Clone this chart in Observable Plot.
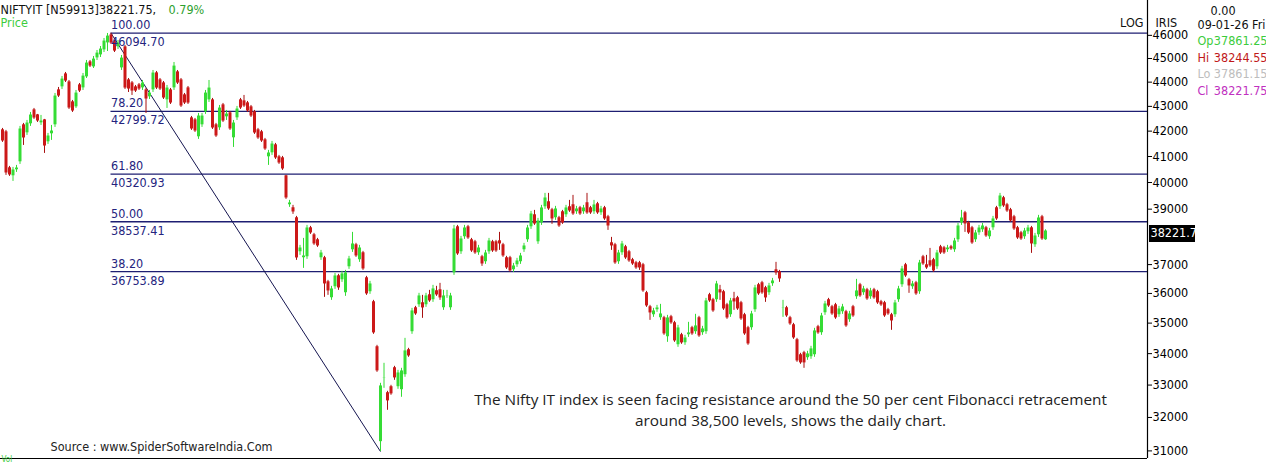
<!DOCTYPE html>
<html><head><meta charset="utf-8">
<script src="https://cdn.jsdelivr.net/npm/d3@7"></script>
<script src="https://cdn.jsdelivr.net/npm/@observablehq/plot@0.6"></script>
<style>html,body{margin:0;padding:0;background:#fff;} #chart{width:1266px;height:463px;overflow:hidden;}</style>
</head><body><div id="chart"></div>
<script>
// Daily candles, NIFTY IT (oldest -> 09-01-26)
const OPEN = [
42029,41949,40540,40233,40463,40771,42229,41909,42269,42834,
42631,42309,42429,41553,41870,42229,43654,43779,44322,43986,
43160,42956,43862,43737,44196,44830,44617,45000,45129,45343,
45646,45994,45689,45473,44575,45473,44070,43945,43779,43862,
43737,43654,43366,43654,44365,44070,43945,43242,43654,43737,
44407,44070,43448,43737,42510,42429,41751,42229,42753,43242,
43242,42229,42109,43037,42550,42712,41711,42510,43242,43201,
43119,42956,42753,42029,41949,41632,40965,41121,41434,40965,
40926,40233,
39141,39030,38661,37432,37220,37255,38295,38041,37861,37220,
37220,36381,35833,36209,36589,36450,36004,36903,37503,37682,
37149,37397,36519,36038,35697,34204,31255,33212,32743,32930,
33529,32930,32836,33307,34107,34695,35494,35595,35663,35595,
35935,35765,36072,36106,35494,35901,35494,36694,38331,37432,
37969,38331,37861,37789,37397,37255,37079,37432,37789,37789,
37825,37682,37220,37220,36798,36973,37079,37503,37861,38331,38771,37789,
38477,39067,39253,38955,38661,38661,38882,38771,39067,39141,
38882,39030,38882,39216,39030,38882,39178,38844,39030,38697,
37754,37682,37079,37397,37610,37432,37149,37043,37043,36973,
36004,35528,35259,35427,35159,35159,34530,35192,34992,34269,
34596,34334,34596,34827,34695,35159,34662,34695,35935,35765,
35765,36106,36038,35595,35259,35799,35833,35663,35259,34827,
34827,35427,36278,36347,36175,36004,36313,36798,36728,35494,
35494,35159,34926,34432,33945,
34010,33849,33881,33945,34860,34662,35326,35765,35528,35595,
35259,35360,35360,35092,35528,35867,36278,36004,36106,35867,
36106,36038,35697,35663,35427,35259,35259,35765,36278,36973,
36450,36209,36347,36038,37255,36973,37114,37149,36903,37610,
37574,37503,37610,37503,37861,38477,38844,38477,38295,37861,
38113,38222,38295,37969,38295,39030,39067,39402,39141,38955,
38697,38295,38113,37969,38150,38295,37682,38041,38697,37861.25
];
const HIGH = [
42109,42029,40617,40578,40655,42189,42309,42429,42753,42915,
42672,42631,42470,41909,42229,43530,43779,44238,44407,44070,
43242,43654,43945,44365,44915,44915,45086,45343,45516,45863,
46082,46094.70,45776,45776,45129,45559,44154,44028,43862,43945,
44070,43737,43654,44491,44449,44154,44028,43862,43737,44830,
44491,44154,43530,43820,42591,42510,42712,42712,43654,44070,
43325,42309,43037,43119,42834,42793,42429,42997,43325,43448,
43201,43037,42834,42109,42029,41711,41238,41593,41513,41043,
41004,40271,
39327,39141,38734,37682,37933,38404,38367,38113,37933,37503,
37291,36450,36244,36694,36659,36763,36798,37291,38150,37754,
37682,37467,36589,36416,35765,34269,33055,33689,32805,32992,
33593,33465,33529,34497,34172,35494,35561,36004,35935,36004,
36106,36278,36244,36347,36106,36106,36004,38404,38404,38005,
38404,38404,37933,37861,37682,37326,37503,37933,37861,37861,
38150,37754,37291,37291,37043,37220,37397,37754,38404,38918,38955,38661,
39141,39589,39589,39030,39104,38734,38955,39141,39327,39514,
39104,39104,39141,39589,39104,39327,39253,39104,39104,38771,
37969,37754,37503,37825,37682,37503,37220,37114,37114,37043,
36072,35595,35494,35595,35629,35226,35259,35259,35059,34926,
34662,34596,35026,34893,35293,35226,34893,35833,36004,35833,
36416,36278,36106,35663,35833,36038,35901,35731,35326,34893,
35393,36278,36347,36416,36244,36347,36519,37079,36798,35765,
35561,35226,34992,34497,34010,
34075,34075,34237,34827,34926,35326,35731,35833,35595,35663,
35561,35629,35427,35393,35595,36485,36347,36244,36175,36175,
36175,36106,35765,35731,35494,35326,35765,36244,36938,37043,
36519,36416,36416,37149,37326,37326,37574,37220,37503,37682,
37646,37682,37682,37933,38477,38955,38918,38551,38367,38222,
38404,38477,38367,38295,38734,39104,39589,39477,39216,39030,
38771,38367,38186,38295,38404,38367,38113,38771,38771,38244.55
];
const LOW = [
41553,40271,40233,40042,40386,40694,41434,41830,42189,42470,
42349,42229,41121,41474,41632,42149,43366,43696,43986,42875,
42753,42915,43571,43654,44154,44617,44575,44915,45043,45257,
45300,45603,45257,45387,44491,43696,43571,43448,43571,43654,
43654,42712,43283,43571,43696,43654,43283,42915,43078,43654,
43903,42956,43078,43078,42029,41949,41672,42149,42672,43160,
42069,41751,42029,42349,42429,42029,41355,42429,42875,42956,
42753,42550,41870,41672,41553,41238,40655,41043,40887,40694,
40463,39364,
39067,38808,37149,37326,36868,37184,38077,37682,37610,37149,
35867,35935,35765,36140,36106,36381,35901,36833,37432,37255,
37079,36798,35935,35969,34629,33401,30980.12,32898,32219,32681,
33149,32867,32619,33244,33881,34629,35259,35528,35159,35528,
35697,35697,35901,35765,35427,35833,35427,36624,37326,37361,
37897,37897,37432,37361,37326,36938,37008,37361,37432,37432,
37503,37255,36833,36728,36728,36903,37008,37432,37789,38259,38404,37718,
38404,38992,38955,38441,38587,38331,38441,38697,38882,38771,
38808,38771,38808,38808,38808,38808,38808,38771,38587,38222,
37503,37008,37008,37326,37184,37079,36973,36833,36798,36038,
35528,35092,35192,35360,35092,34596,34367,34959,34367,34204,
34302,34269,34530,34596,34629,34530,34596,34629,35697,35360,
35697,35765,35427,35126,35192,35427,35427,35092,34596,34269,
34761,35360,35935,35969,35697,35935,36244,36624,36381,35192,
35192,34926,34465,33721,33657,
33529,33785,33817,33881,34629,34596,35259,35528,35259,35126,
35192,35293,34860,35026,35192,35799,35867,35935,35765,35799,
35799,35629,35561,35192,35259,34761,35192,35697,36209,36554,
36004,36140,35935,35969,36973,36833,36903,36728,36833,37361,
37361,37432,37503,37432,37789,38404,38150,38077,37718,37789,
38041,38150,37969,37897,38222,38587,38992,39067,38882,38514,
38222,37897,37861,37897,38077,37397,37610,37969,37861,37861.15
];
const CLOSE = [
41632,40386,40310,40502,40578,42109,41751,42349,42672,42550,
42429,42429,41434,41830,42029,43448,43448,44154,44070,42956,
42834,43571,43654,44280,44830,44702,45000,45257,45430,45776,
45994,45689,45343,45689,45043,43779,43737,43654,43654,43737,
43986,43325,43571,44407,43779,43737,43366,43779,43160,44702,
43986,43037,43160,43160,42109,42029,42631,42631,43571,43779,
42149,41830,42956,42429,42712,42109,42349,42915,42956,43037,
42834,42631,41949,41751,41632,41316,41160,41513,40965,40771,
40540,39439,
39253,38918,37255,37610,37326,38331,38150,37754,37682,37432,
36347,36106,36175,36624,36209,36694,36728,37220,37754,37326,
37610,36868,36004,36347,34695,33465,32992,33244,32526,32743,
33244,33401,33465,34107,33945,35427,35326,35935,35528,35935,
35765,36175,35969,35867,35935,35935,35935,38295,37397,37933,
38331,37969,37503,37432,37610,37043,37432,37861,37503,37503,
37754,37326,36903,36798,36973,37149,37326,37682,38331,38844,38477,38587,
39067,39439,39030,38661,39030,38404,38514,39067,38955,38844,
39030,38844,39067,38882,38882,39178,38882,39030,38661,38404,
37682,37079,37432,37754,37255,37149,37043,36903,36903,36106,
35595,35360,35427,35528,35326,34662,35192,35026,34432,34860,
34367,34530,34695,34662,34926,34596,34827,35765,35765,35427,
36347,36038,35494,35192,35765,35731,35494,35159,34662,34334,
35326,36209,36004,36038,35867,36278,36450,36728,36519,35528,
35259,34992,34530,33785,33721,
33721,34010,34172,34761,34695,35259,35663,35595,35326,35192,
35494,35561,34926,35326,35259,36106,35935,36175,35833,36106,
35867,35697,35629,35259,35326,35092,35697,36175,36868,36624,
36278,36347,36004,37079,37043,36903,36973,36798,37432,37432,
37432,37610,37574,37861,38404,38697,38477,38150,37789,38150,
38331,38404,38041,38222,38661,38661,39514,39141,38955,38587,
38295,37969,37933,38222,38331,37754,38041,38697,37933,38221.75
];
// Fibonacci retracement (high 46094.70 -> low)
const fibPct = [100.00, 78.20, 61.80, 50.00, 38.20];
const fibLevel = [46094.70, 42799.72, 40320.93, 38537.41, 36753.89];
// Right axis tick labels (38000 is hidden behind the last-price box)
const yTicks = [31000,32000,33000,34000,35000,36000,37000,39000,40000,41000,42000,43000,44000,45000,46000];

const lens = [OPEN.length, HIGH.length, LOW.length, CLOSE.length];
if (new Set(lens).size !== 1) throw new Error("length mismatch " + lens.join(","));

const n = CLOSE.length;
const candles = d3.range(n).map(i => ({i, o: OPEN[i], h: HIGH[i], l: LOW[i], c: CLOSE[i]}));
const GREEN = "#35dc35", RED = "#cc1818", WICK_RED = "#a81010";
const NAVY = "#1e1e72";
const xDomain = [-0.5714, 327.14];
const xEnd = xDomain[1];
const peakI = d3.maxIndex(HIGH), lowI = d3.minIndex(LOW);
const fib = fibPct.map((p, k) => ({p, v: fibLevel[k], x1: peakI, x2: xEnd}));
const swing = [{x1: peakI, y1: HIGH[peakI], x2: lowI, y2: LOW[lowI]}];
const last = [{x: xEnd, y: CLOSE[n - 1], label: String(CLOSE[n - 1]).slice(0, 7)}];

const F = "'DejaVu Sans Condensed', 'DejaVu Sans', sans-serif";
const FS = 12.5;
const T = (s, o) => Plot.text([s], Object.assign({text: d => d, frameAnchor: "top-left", textAnchor: "start", lineAnchor: "middle", fontSize: FS, fontFamily: F, fill: "#111"}, o));

const chart = Plot.plot({
  width: 1266, height: 463,
  marginLeft: 0, marginRight: 119, marginTop: 0, marginBottom: 5,
  style: {background: "white", fontFamily: F, fontSize: "12.5px", color: "#000", overflow: "visible"},
  x: {domain: xDomain, axis: null},
  y: {type: "log", domain: [30777, 47548], axis: "right", ticks: yTicks, tickFormat: "d", tickSize: 4, tickPadding: 1, label: null},
  marks: [
    Plot.ruleX([xEnd], {stroke: "#000", strokeWidth: 1.2}),
    Plot.ruleY([30777], {stroke: "#000", strokeWidth: 1.2}),
    Plot.ruleY(fib, {y: "v", x1: "x1", x2: "x2", stroke: NAVY, strokeWidth: 1.3}),
    Plot.link(swing, {x1: "x1", y1: "y1", x2: "x2", y2: "y2", stroke: "#151550", strokeWidth: 1}),
    Plot.ruleX(candles, {x: "i", y1: "l", y2: "h", stroke: d => d.c >= d.o ? GREEN : WICK_RED, strokeWidth: 1}),
    Plot.ruleX(candles, {x: "i", y1: "o", y2: "c", stroke: d => d.c >= d.o ? GREEN : RED, strokeWidth: 3, insetTop: -0.6, insetBottom: -0.6}),
    Plot.text(fib, {x: "x1", y: "v", text: d => d.p.toFixed(2), textAnchor: "start", dy: -8, fontSize: FS, fontFamily: F, fill: "#24247e"}),
    Plot.text(fib, {x: "x1", y: "v", text: d => d.v.toFixed(2), textAnchor: "start", dy: 9, fontSize: FS, fontFamily: F, fill: "#24247e"}),
    Plot.ruleY(last, {y: "y", x1: "x", x2: "x", insetLeft: 2, insetRight: -48, dy: 3, stroke: "#000", strokeWidth: 17}),
    Plot.text(last, {x: "x", y: "y", text: "label", textAnchor: "start", dx: 3, dy: 3, fill: "#fff", fontSize: FS, fontFamily: F}),
    // header
    T("NIFTYIT [N59913]38221.75,", {dy: 9}),
    T("0.79%", {dx: 168, dy: 9, fill: "#2ea02e"}),
    T("Price", {dy: 22, fill: "#3ccc3c"}),
    T("LOG", {frameAnchor: "top-right", textAnchor: "end", dx: -4, dy: 22}),
    T("IRIS", {frameAnchor: "top-right", dx: 8, dy: 22}),
    T("0.00", {frameAnchor: "top-right", dx: 63, dy: 10}),
    T("09-01-26 Fri", {frameAnchor: "top-right", dx: 50, dy: 24}),
    T("Op", {frameAnchor: "top-right", dx: 50, dy: 40, fill: "#3ccc3c"}),
    T("37861.25", {frameAnchor: "top-right", textAnchor: "end", dx: 120, dy: 40, fill: "#3ccc3c"}),
    T("Hi", {frameAnchor: "top-right", dx: 50, dy: 57, fill: "#c01818"}),
    T("38244.55", {frameAnchor: "top-right", textAnchor: "end", dx: 120, dy: 57, fill: "#c01818"}),
    T("Lo", {frameAnchor: "top-right", dx: 50, dy: 73, fill: "#bdbdbd"}),
    T("37861.15", {frameAnchor: "top-right", textAnchor: "end", dx: 120, dy: 73, fill: "#bdbdbd"}),
    T("Cl", {frameAnchor: "top-right", dx: 50, dy: 90, fill: "#c030c0"}),
    T("38221.75", {frameAnchor: "top-right", textAnchor: "end", dx: 120, dy: 90, fill: "#c030c0"}),
    // annotation
    T("The Nifty IT index is seen facing resistance around the 50 per cent Fibonacci retracement", {dx: 790, dy: 400, textAnchor: "middle", fontFamily: "'Open Sans', sans-serif", fontSize: 15.35, fill: "#222"}),
    T("around 38,500 levels, shows the daily chart.", {dx: 790, dy: 421, textAnchor: "middle", fontFamily: "'Open Sans', sans-serif", fontSize: 15.35, fill: "#222"}),
    T("Source : www.SpiderSoftwareIndia.Com", {dx: 50, dy: 446, fill: "#222"}),
    T("Vol", {dx: 1, dy: 459, fontSize: 8, fill: "#3ccc3c"})
  ]
});
document.getElementById("chart").append(chart);
</script></body></html>
